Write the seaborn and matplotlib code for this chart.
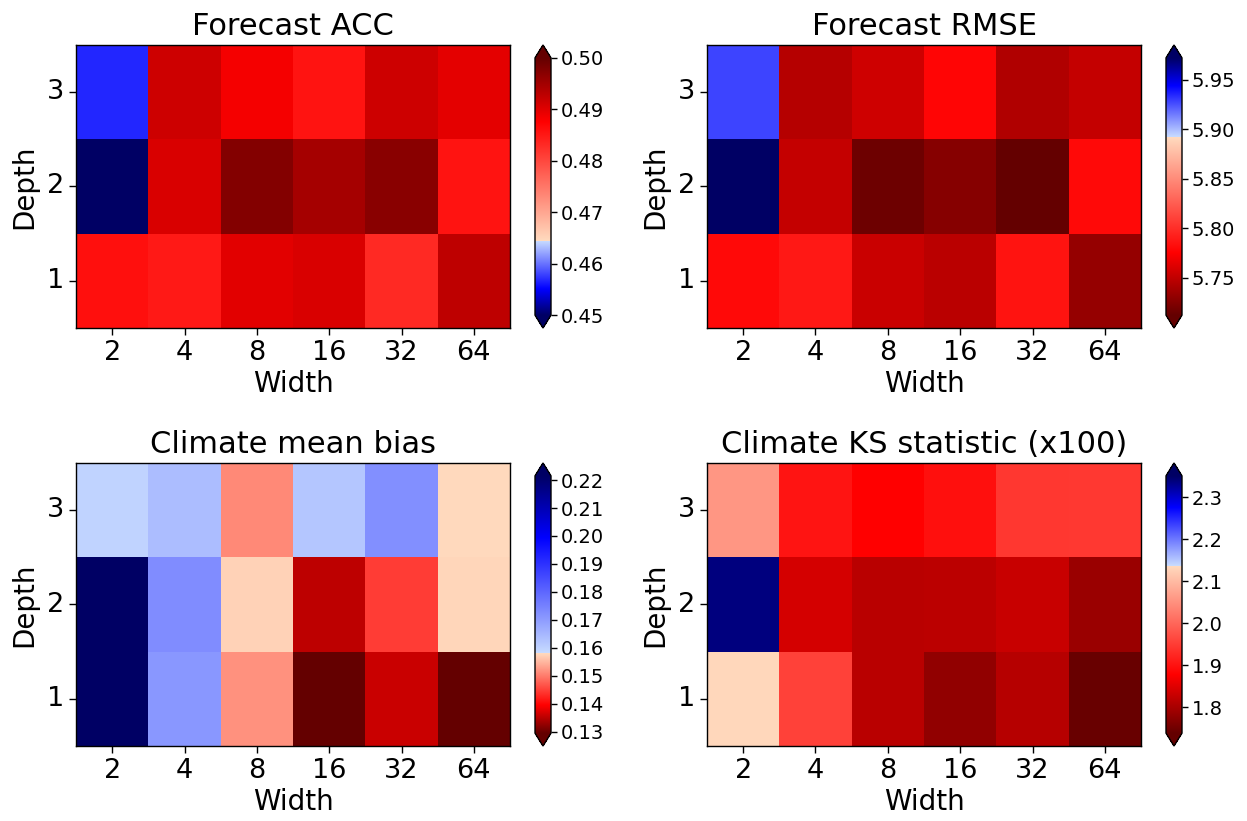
import numpy as np
import pandas as pd
import matplotlib
matplotlib.use("Agg")
import matplotlib.pyplot as plt
from matplotlib.colors import LinearSegmentedColormap
import seaborn as sns

# ---------------- data ----------------
widths = [2, 4, 8, 16, 32, 64]
depths = [1, 2, 3]

acc_d1 = [0.4860, 0.4849, 0.4899, 0.4906, 0.4833, 0.4928]
acc_d2 = [0.4490, 0.4906, 0.4975, 0.4948, 0.4970, 0.4855]
acc_d3 = [0.4567, 0.4916, 0.4884, 0.4855, 0.4916, 0.4897]

rmse_d1 = [5.780, 5.788, 5.753, 5.747, 5.785, 5.732]
rmse_d2 = [5.975, 5.751, 5.716, 5.726, 5.712, 5.780]
rmse_d3 = [5.928, 5.745, 5.755, 5.778, 5.743, 5.751]

bias_d1 = [0.2215, 0.1710, 0.1518, 0.1295, 0.1360, 0.1295]
bias_d2 = [0.2215, 0.1729, 0.1573, 0.1353, 0.1446, 0.1577]
bias_d3 = [0.1597, 0.1638, 0.1511, 0.1621, 0.1724, 0.1579]

ks_d1 = [2.133, 1.955, 1.815, 1.779, 1.812, 1.742]
ks_d2 = [2.338, 1.839, 1.815, 1.817, 1.828, 1.787]
ks_d3 = [2.056, 1.902, 1.878, 1.896, 1.943, 1.945]

titles = ["Forecast ACC", "Forecast RMSE", "Climate mean bias", "Climate KS statistic (x100)"]
acc_ticks = [0.45, 0.46, 0.47, 0.48, 0.49, 0.50]
rmse_ticks = [5.75, 5.80, 5.85, 5.90, 5.95]
bias_ticks = [0.13, 0.14, 0.15, 0.16, 0.17, 0.18, 0.19, 0.20, 0.21, 0.22]
ks_ticks = [1.8, 1.9, 2.0, 2.1, 2.2, 2.3]

# ---------------- colormap helper ----------------
NAVY = (0, 0, 100 / 255)
BLUE = (0, 0, 1)
LBLUE = (200 / 255, 220 / 255, 1)
PEACH = (1, 218 / 255, 190 / 255)
RED = (1, 0, 0)
DRED = (100 / 255, 0, 0)


def make_cmap(vmin, vmax, center, high_red):
    p = (center - vmin) / (vmax - vmin)
    if high_red:
        stops = [(0.0, NAVY), (0.35 * p, BLUE), (p, LBLUE), (p, PEACH),
                 (p + 0.65 * (1 - p), RED), (1.0, DRED)]
        under, over = NAVY, DRED
    else:
        stops = [(0.0, DRED), (0.35 * p, RED), (p, PEACH), (p, LBLUE),
                 (p + 0.65 * (1 - p), BLUE), (1.0, NAVY)]
        under, over = DRED, NAVY
    cm = LinearSegmentedColormap.from_list("div", stops, N=1024)
    cm.set_under(under)
    cm.set_over(over)
    return cm


panels = [
    dict(rows=[acc_d1, acc_d2, acc_d3], vmin=0.45, vmax=0.50, center=0.4645,
         high_red=True, ticks=acc_ticks, fmt="%.2f"),
    dict(rows=[rmse_d1, rmse_d2, rmse_d3], vmin=5.712, vmax=5.972, center=5.892,
         high_red=False, ticks=rmse_ticks, fmt="%.2f"),
    dict(rows=[bias_d1, bias_d2, bias_d3], vmin=0.1295, vmax=0.2215, center=0.158,
         high_red=False, ticks=bias_ticks, fmt="%.2f"),
    dict(rows=[ks_d1, ks_d2, ks_d3], vmin=1.738, vmax=2.351, center=2.137,
         high_red=False, ticks=ks_ticks, fmt="%.1f"),
]

W, H = 1247, 821
fig = plt.figure(figsize=(W / 100, H / 100), dpi=100)

ax_px = [(76, 45), (707, 45), (76, 463), (707, 463)]
ax_w, ax_h = 434, 283
cb_dx, cb_w = 459, 16

for i, pnl in enumerate(panels):
    x0, y0 = ax_px[i]
    ax = fig.add_axes([x0 / W, 1 - (y0 + ax_h) / H, ax_w / W, ax_h / H])
    cax = fig.add_axes([(x0 + cb_dx) / W, 1 - (y0 + ax_h) / H, cb_w / W, ax_h / H])
    df = pd.DataFrame(pnl["rows"][::-1], index=depths[::-1], columns=widths)
    cmap = make_cmap(pnl["vmin"], pnl["vmax"], pnl["center"], pnl["high_red"])
    sns.heatmap(df, ax=ax, cmap=cmap, vmin=pnl["vmin"], vmax=pnl["vmax"],
                cbar_ax=cax, linewidths=0,
                cbar_kws=dict(extend="both", ticks=pnl["ticks"], format=pnl["fmt"],
                              extendfrac=0.05))
    for s in ax.spines.values():
        s.set_visible(True)
        s.set_linewidth(1.0)
        s.set_color("black")
    ax.tick_params(axis="both", labelsize=19.5, length=5, width=1)
    ax.set_yticklabels([str(d) for d in depths[::-1]], rotation=0)
    ax.set_xticklabels([str(w) for w in widths], rotation=0)
    ax.set_xlabel("Width", fontsize=20, labelpad=3)
    ax.set_ylabel("Depth", fontsize=20, labelpad=6)
    ax.set_title(titles[i], fontsize=22, pad=7)
    cb = ax.collections[0].colorbar
    cb.outline.set_linewidth(1.0)
    cb.outline.set_edgecolor("black")
    cax.tick_params(labelsize=14, length=4, width=1, pad=3)

fig.savefig("out.png", dpi=100)
